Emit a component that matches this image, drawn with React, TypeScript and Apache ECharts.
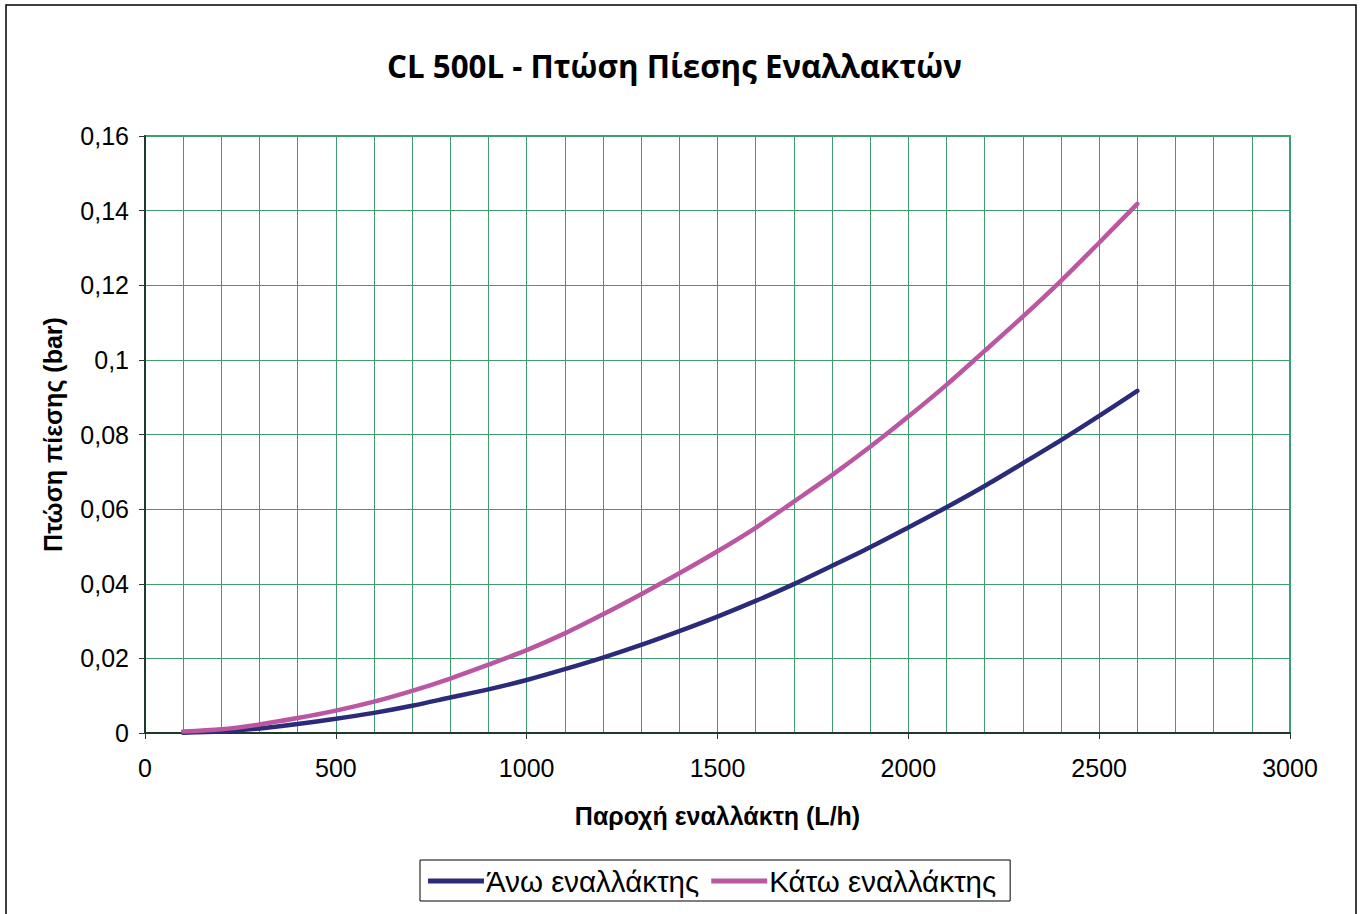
import React, { useEffect, useRef } from "react";
import * as echarts from "echarts";

const flows = [100, 200, 300, 400, 500, 600, 700, 800, 900, 1000, 1100, 1200, 1300, 1400, 1500, 1600, 1700, 1800, 1900, 2000, 2100, 2200, 2300, 2400, 2500, 2600];
const upperDrop = [0.0001, 0.0004, 0.0012, 0.0024, 0.0038, 0.0054, 0.0073, 0.0095, 0.0117, 0.0142, 0.0171, 0.0202, 0.0236, 0.0273, 0.0312, 0.0354, 0.0399, 0.0448, 0.0498, 0.0551, 0.0605, 0.0662, 0.0723, 0.0785, 0.085, 0.0917];
const lowerDrop = [0.0004, 0.001, 0.0023, 0.004, 0.006, 0.0084, 0.0113, 0.0146, 0.0183, 0.0222, 0.0267, 0.0318, 0.0372, 0.0428, 0.0487, 0.055, 0.062, 0.0691, 0.0767, 0.0848, 0.0933, 0.1024, 0.1116, 0.1212, 0.1314, 0.1418];
const seriesNames = ["Άνω εναλλάκτης", "Κάτω εναλλάκτης"];
const titleText = "CL 500L - Πτώση Πίεσης Εναλλακτών";
const xName = "Παροχή εναλλάκτη (L/h)";
const yName = "Πτώση πίεσης (bar)";

export default function App() {
  const ref = useRef<HTMLDivElement>(null);
  useEffect(() => {
    if (!ref.current) return;
    const chart = echarts.init(ref.current, null, { renderer: "svg" });
    const grid = "#3F9E6E";
    const axisDark = "#1E3A2A";
    chart.setOption({
      animation: false,
      backgroundColor: "#ffffff",
      textStyle: { fontFamily: "Liberation Sans" },
      title: {
        text: titleText,
        left: 382,
        top: 45,
        textStyle: { fontFamily: "Open Sans", fontWeight: "bold", fontSize: 31.3, color: "#000" },
      },
      graphic: [
        {
          type: "rect",
          shape: { x: 6, y: 5, width: 1350, height: 920 },
          style: { fill: "none", stroke: "#000", lineWidth: 1.5 },
          silent: true,
        },
      ],
      grid: {
        left: 145,
        right: 70,
        top: 136,
        bottom: 181,
        show: true,
        borderColor: grid,
        borderWidth: 2,
        backgroundColor: "transparent",
      },
      legend: {
        left: 420,
        top: 860,
        orient: "horizontal",
        icon: "rect",
        itemWidth: 56,
        itemHeight: 5,
        itemGap: 12,
        padding: [6, 14, 5, 8],
        borderColor: "#000",
        borderWidth: 1,
        textStyle: { fontSize: 29.5, color: "#000", fontFamily: "Liberation Sans", padding: [0, 0, 0, -3] },
        data: seriesNames,
      },
      xAxis: {
        type: "value",
        min: 0,
        max: 3000,
        interval: 500,
        name: xName,
        nameLocation: "middle",
        nameGap: 70,
        nameTextStyle: { fontSize: 25, fontWeight: "bold", color: "#000", fontFamily: "Liberation Sans" },
        axisLine: { show: true, lineStyle: { color: axisDark, width: 2 } },
        axisTick: { show: true, length: 6, lineStyle: { color: "#333" } },
        axisLabel: {
          fontSize: 25,
          color: "#000",
          margin: 22,
          fontFamily: "Liberation Sans",
          formatter: (v: number) => String(Math.round(v)),
        },
        splitLine: { show: true, lineStyle: { color: grid, width: 1 } },
        minorTick: { show: false, splitNumber: 5 },
        minorSplitLine: { show: true, lineStyle: { color: grid, width: 1 } },
      },
      yAxis: {
        type: "value",
        min: 0,
        max: 0.16,
        interval: 0.02,
        name: yName,
        nameLocation: "middle",
        nameGap: 80,
        nameTextStyle: { fontSize: 25, fontWeight: "bold", color: "#000", fontFamily: "Liberation Sans" },
        axisLine: { show: true, lineStyle: { color: axisDark, width: 2 } },
        axisTick: { show: true, length: 6, lineStyle: { color: "#333" } },
        axisLabel: {
          fontSize: 25,
          color: "#000",
          margin: 16,
          fontFamily: "Liberation Sans",
          formatter: (v: number) => String(Math.round(v * 100) / 100).replace(".", ","),
        },
        splitLine: { show: true, lineStyle: { color: grid, width: 1 } },
      },
      series: [
        {
          name: seriesNames[0],
          type: "line",
          data: flows.map((f, i) => [f, upperDrop[i]]),
          showSymbol: false,
          smooth: 0.3,
          color: "#2B2B7A",
          lineStyle: { width: 4.5, color: "#2B2B7A", cap: "round" },
          z: 3,
        },
        {
          name: seriesNames[1],
          type: "line",
          data: flows.map((f, i) => [f, lowerDrop[i]]),
          showSymbol: false,
          smooth: 0.3,
          color: "#BB57A2",
          lineStyle: { width: 4.5, color: "#BB57A2", cap: "round" },
          z: 4,
        },
      ],
    });
    return () => chart.dispose();
  }, []);
  return (
    <div
      ref={ref}
      style={{ position: "absolute", left: 0, top: 0, width: 1360, height: 914 }}
    />
  );
}
